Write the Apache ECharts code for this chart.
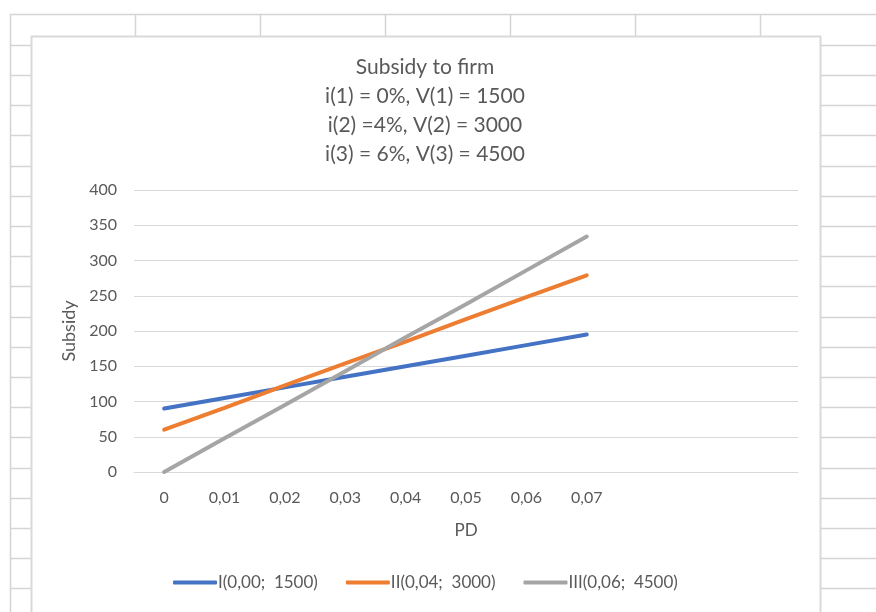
<!DOCTYPE html>
<html>
<head>
<meta charset="utf-8">
<script src="https://cdn.jsdelivr.net/npm/echarts@6/dist/echarts.min.js"></script>
<style>
html,body{margin:0;padding:0;background:#fff;}
#c{width:876px;height:612px;}
</style>
</head>
<body>
<div id="c"></div>
<script>
// Data
const categories = ['0', '0,01', '0,02', '0,03', '0,04', '0,05', '0,06', '0,07', '', '', ''];
const seriesNames = ['I(0,00;  1500)', 'II(0,04;  3000)', 'III(0,06;  4500)'];
const seriesI = [90, 105, 120, 135, 150, 165, 180, 195];
const seriesII = [60, 91, 123, 154, 185, 217, 248, 279];
const seriesIII = [0, 48, 95, 143, 191, 238, 286, 334];
const titleLines = ['Subsidy to firm', 'i(1) = 0%, V(1) = 1500', 'i(2) =4%, V(2) = 3000', 'i(3) = 6%, V(3) = 4500'];
const yTicks = { min: 0, max: 400, interval: 50 };

const FONT = 'Lato, "Open Sans", sans-serif';
const TXT = '#595959';
const GRID = '#d9d9d9';

// Spreadsheet-like background decoration
const sheetLine = '#d4d4d4';
const deco = [];
deco.push({ type: 'line', z: -10, shape: { x1: 10, y1: 14.5, x2: 876, y2: 14.5 }, style: { stroke: sheetLine, lineWidth: 1.5 } });
deco.push({ type: 'line', z: -10, shape: { x1: 10.5, y1: 14, x2: 10.5, y2: 612 }, style: { stroke: sheetLine, lineWidth: 1.5 } });
[135, 260, 385, 510, 635, 760].forEach(x => {
  deco.push({ type: 'line', z: -10, shape: { x1: x + 0.5, y1: 14, x2: x + 0.5, y2: 40 }, style: { stroke: sheetLine, lineWidth: 1.5 } });
});
for (let k = 0; k < 19; k++) {
  const y = Math.round(44.8 + 30.2 * k) + 0.5;
  deco.push({ type: 'line', z: -10, shape: { x1: 10, y1: y, x2: 32, y2: y }, style: { stroke: sheetLine, lineWidth: 1.5 } });
  deco.push({ type: 'line', z: -10, shape: { x1: 820, y1: y, x2: 876, y2: y }, style: { stroke: sheetLine, lineWidth: 1.5 } });
}
deco.push({ type: 'rect', z: -9, shape: { x: 31.5, y: 36.5, width: 789, height: 600 }, style: { fill: '#fff', stroke: '#d9d9d9', lineWidth: 2 } });

const chart = echarts.init(document.getElementById('c'), null, { renderer: 'canvas' });
const mk = (name, data, color) => ({
  name, type: 'line', data, symbol: 'none', smooth: false,
  lineStyle: { width: 4, color, cap: 'round' }, itemStyle: { color }
});
chart.setOption({
  animation: false,
  backgroundColor: '#fff',
  graphic: deco,
  title: {
    text: titleLines.join('\n'),
    left: 420, top: 48, textAlign: 'center',
    textStyle: { fontFamily: FONT, fontSize: 21, fontWeight: 'normal', color: TXT, lineHeight: 29 }
  },
  legend: {
    bottom: 16, left: 168,
    itemWidth: 44, itemHeight: 4, itemGap: 28,
    icon: 'roundRect',
    textStyle: { fontFamily: FONT, fontSize: 17, color: TXT, padding: [0, 0, 0, -4] },
    data: seriesNames
  },
  grid: { left: 134, right: 78, top: 190, bottom: 140, containLabel: false },
  xAxis: {
    type: 'category', data: categories, boundaryGap: true,
    name: 'PD', nameLocation: 'middle', nameGap: 50,
    nameTextStyle: { fontFamily: FONT, fontSize: 17, color: TXT },
    axisLine: { show: true, lineStyle: { color: GRID, width: 1 } },
    axisTick: { show: false },
    axisLabel: { interval: 0, margin: 18, fontFamily: FONT, fontSize: 16, color: TXT }
  },
  yAxis: {
    type: 'value', min: yTicks.min, max: yTicks.max, interval: yTicks.interval,
    name: 'Subsidy', nameLocation: 'middle', nameGap: 54, nameRotate: 90,
    nameTextStyle: { fontFamily: FONT, fontSize: 18, color: TXT },
    axisLine: { show: false }, axisTick: { show: false },
    axisLabel: { margin: 17, fontFamily: FONT, fontSize: 16, color: TXT },
    splitLine: { lineStyle: { color: GRID, width: 1 } }
  },
  series: [
    mk(seriesNames[0], seriesI, '#4472C4'),
    mk(seriesNames[1], seriesII, '#ED7D31'),
    mk(seriesNames[2], seriesIII, '#A5A5A5')
  ]
});
</script>
</body>
</html>
